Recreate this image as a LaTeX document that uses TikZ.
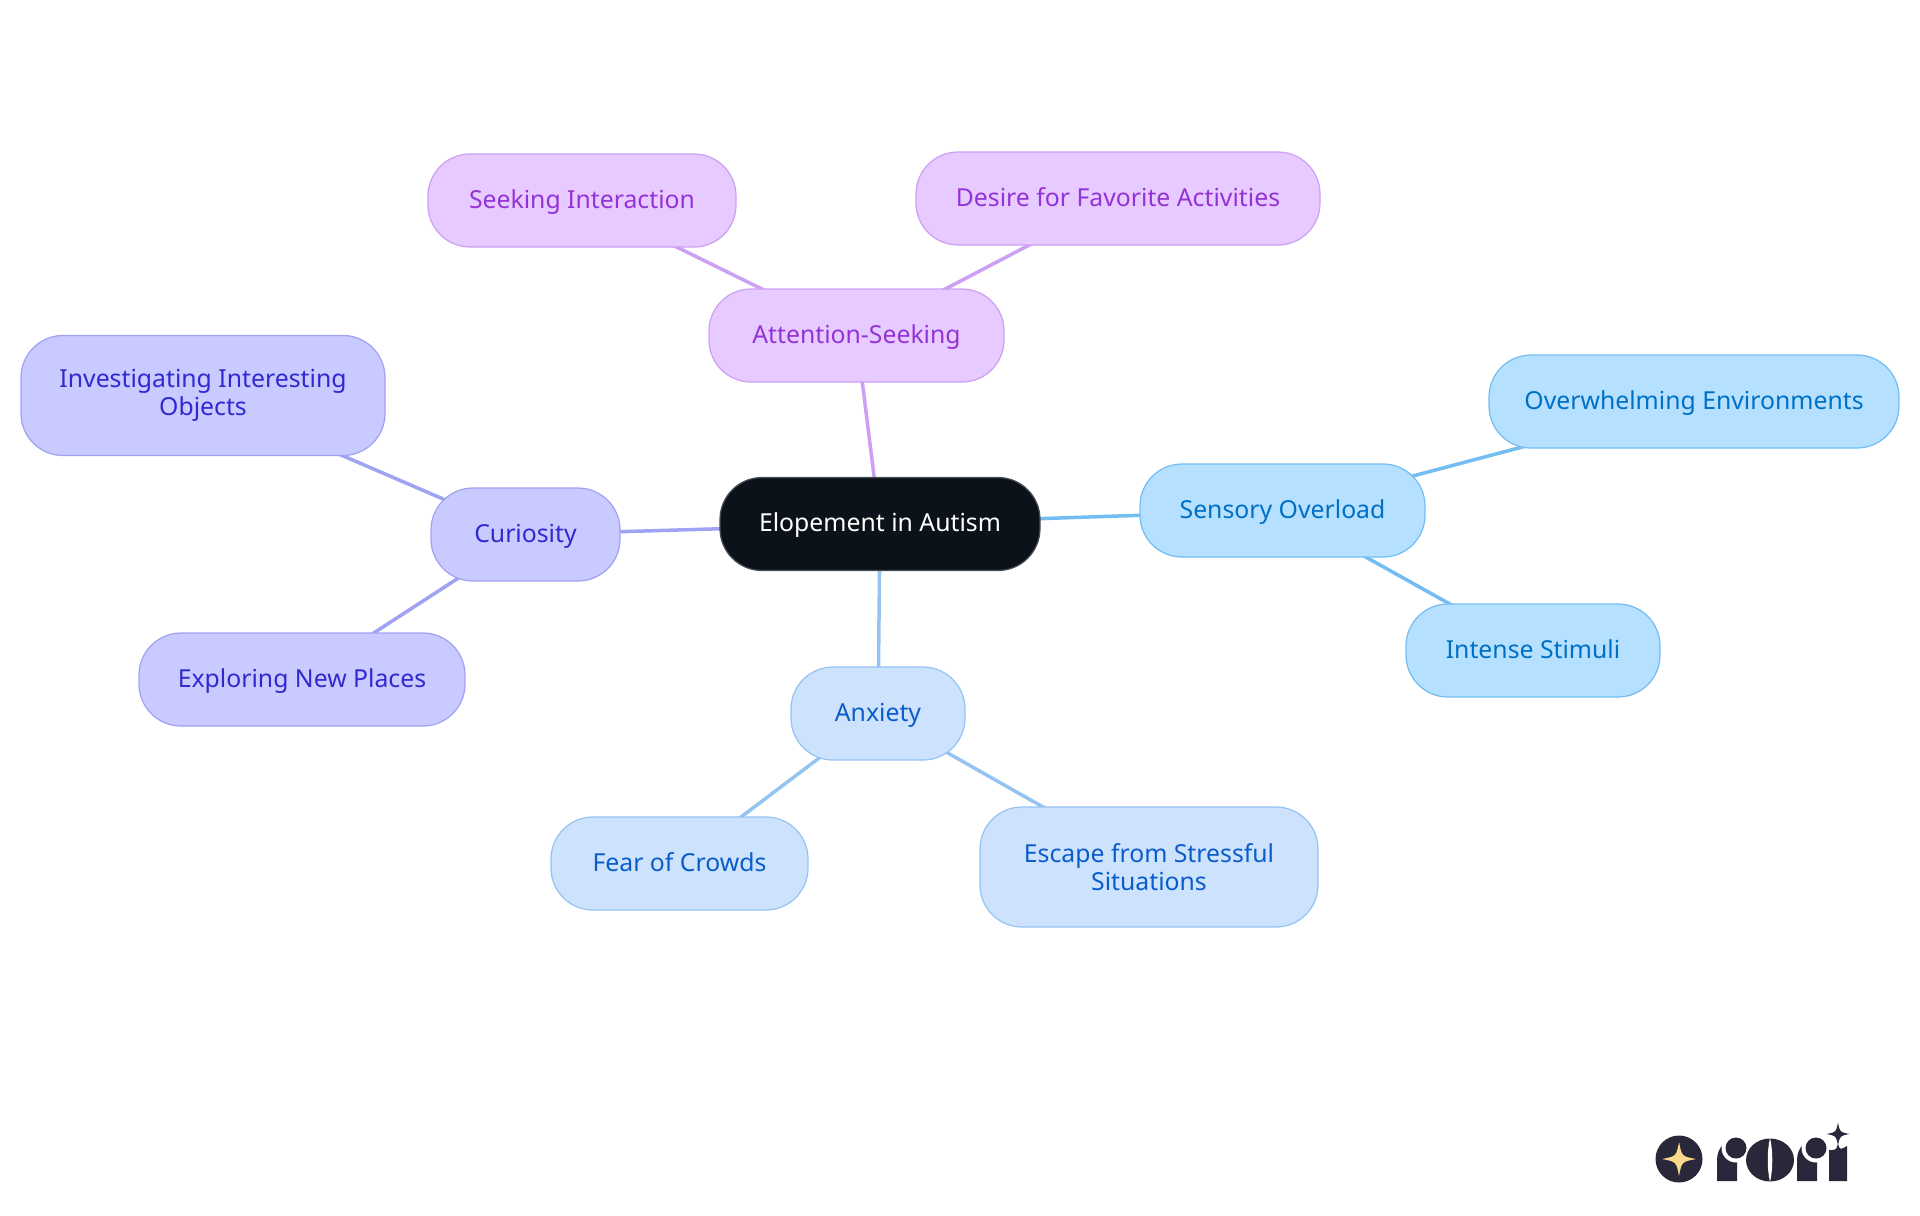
\documentclass[tikz,border=0pt]{standalone}
\usepackage{fontspec}
\setmainfont{Noto Sans}
\usetikzlibrary{positioning,backgrounds}
\definecolor{rootfill}{HTML}{0C121A}
\definecolor{rootline}{HTML}{4A4E54}
\definecolor{attnfill}{HTML}{E7CAFF}
\definecolor{attnline}{HTML}{CDA0F3}
\definecolor{attntext}{HTML}{9333D6}
\definecolor{curifill}{HTML}{C9CAFF}
\definecolor{curiline}{HTML}{A0A2F2}
\definecolor{curitext}{HTML}{2E2AD0}
\definecolor{anxifill}{HTML}{CDE3FD}
\definecolor{anxiline}{HTML}{96C4F2}
\definecolor{anxitext}{HTML}{0B5CCB}
\definecolor{sensfill}{HTML}{B6E0FF}
\definecolor{sensline}{HTML}{74BDF2}
\definecolor{senstext}{HTML}{0070C4}
\definecolor{logodark}{HTML}{28283A}
\definecolor{logogold}{HTML}{FBD98C}
\tikzstyle{topic} = [draw, rectangle, rounded corners=.42cm, align=center,
    inner sep=0pt, minimum height=.93cm, line width=.35pt,
    text height=5.9pt, text depth=1.4pt,
    font=\fontsize{7.05}{7.8}\selectfont]
\tikzstyle{twoline} = [text height=, text depth=, minimum height=1.2cm]
\tikzstyle{root} = [topic, fill=rootfill, draw=rootline, text=white]
\tikzstyle{attn} = [topic, fill=attnfill, draw=attnline, text=attntext]
\tikzstyle{curi} = [topic, fill=curifill, draw=curiline, text=curitext]
\tikzstyle{anxi} = [topic, fill=anxifill, draw=anxiline, text=anxitext]
\tikzstyle{sens} = [topic, fill=sensfill, draw=sensline, text=senstext]
\tikzstyle{link} = [line width=1pt]
\newcommand{\logostar}[4]{\fill[#4,shift={(#1,#2)},scale=#3] (0,1) .. controls (.16,.16) .. (1,0)
  .. controls (.16,-.16) .. (0,-1) .. controls (-.16,-.16) .. (-1,0) .. controls (-.16,.16) .. (0,1) -- cycle;}

\begin{document}
\begin{tikzpicture}[node distance = 3cm, auto]
  \useasboundingbox (0,0) rectangle (19.2,-12.15);
  \node [root, minimum width=3.2cm] at (8.8,-5.24) (elope) {Elopement in Autism};
  \node [attn, minimum width=2.95cm, above of=elope, node distance=1.885cm, xshift=-.235cm] (attention) {Attention-Seeking};
  \node [attn, minimum width=3.08cm, above of=attention, node distance=1.35cm, xshift=-2.745cm] (seeking) {Seeking Interaction};
  \node [attn, minimum width=4.04cm, above of=attention, node distance=1.37cm, xshift=2.615cm] (desire) {Desire for Favorite Activities};
  \node [curi, minimum width=1.89cm, left of=elope, node distance=3.545cm, yshift=-.105cm] (curiosity) {Curiosity};
  \node [curi, twoline, minimum width=3.64cm, left of=curiosity, node distance=3.225cm, yshift=1.39cm] (objects) {Investigating Interesting\\Objects};
  \node [curi, minimum width=3.26cm, left of=curiosity, node distance=2.235cm, yshift=-1.45cm] (places) {Exploring New Places};
  \node [sens, minimum width=2.85cm, right of=elope, node distance=4.025cm, yshift=.135cm] (sensory) {Sensory Overload};
  \node [sens, minimum width=4.1cm, right of=sensory, node distance=4.115cm, yshift=1.09cm] (environ) {Overwhelming Environments};
  \node [sens, minimum width=2.54cm, right of=sensory, node distance=2.505cm, yshift=-1.4cm] (stimuli) {Intense Stimuli};
  \node [anxi, minimum width=1.74cm, below of=elope, node distance=1.895cm, xshift=-.02cm] (anxiety) {Anxiety};
  \node [anxi, minimum width=2.57cm, below of=anxiety, node distance=1.5cm, xshift=-1.985cm] (crowds) {Fear of Crowds};
  \node [anxi, twoline, minimum width=3.38cm, below of=anxiety, node distance=1.535cm, xshift=2.71cm] (escape) {Escape from Stressful\\Situations};
  \begin{scope}[on background layer]
    \draw [link,attnline] (elope.center) -- (attention.center);
    \draw [link,attnline] (attention.center) -- (seeking.center);
    \draw [link,attnline] (attention.center) -- (desire.center);
    \draw [link,curiline] (elope.center) -- (curiosity.center);
    \draw [link,curiline] (curiosity.center) -- (objects.center);
    \draw [link,curiline] (curiosity.center) -- (places.center);
    \draw [link,sensline] (elope.center) -- (sensory.center);
    \draw [link,sensline] (sensory.center) -- (environ.center);
    \draw [link,sensline] (sensory.center) -- (stimuli.center);
    \draw [link,anxiline] (elope.center) -- (anxiety.center);
    \draw [link,anxiline] (anxiety.center) -- (crowds.center);
    \draw [link,anxiline] (anxiety.center) -- (escape.center);
  \end{scope}
  \fill [logodark] (16.79,-11.59) circle (.235);
  \logostar{16.79}{-11.59}{.17}{logogold}
  \fill [logodark] (17.17,-11.81) -- (17.17,-11.6) arc (180:90:.2 and .22) -- (17.37,-11.81) -- cycle;
  \fill [white] (17.36,-11.48) circle (.145);
  \fill [logodark] (17.36,-11.48) circle (.105);
  \fill [logodark] (17.7,-11.6) ellipse (.24 and .215);
  \fill [white] (17.7,-11.38) .. controls (17.67,-11.5) and (17.67,-11.7) .. (17.7,-11.82) .. controls (17.73,-11.7) and (17.73,-11.5) .. (17.7,-11.38) -- cycle;
  \fill [logodark] (17.97,-11.81) -- (17.97,-11.6) arc (180:90:.2 and .22) -- (18.17,-11.81) -- cycle;
  \fill [white] (18.16,-11.48) circle (.145);
  \fill [logodark] (18.16,-11.48) circle (.105);
  \fill [logodark] (18.29,-11.81) -- (18.29,-11.5) .. controls (18.36,-11.5) .. (18.38,-11.44) .. controls (18.4,-11.5) .. (18.47,-11.46) -- (18.47,-11.81) -- cycle;
  \logostar{18.38}{-11.34}{.115}{logodark}
\end{tikzpicture}
\end{document}
